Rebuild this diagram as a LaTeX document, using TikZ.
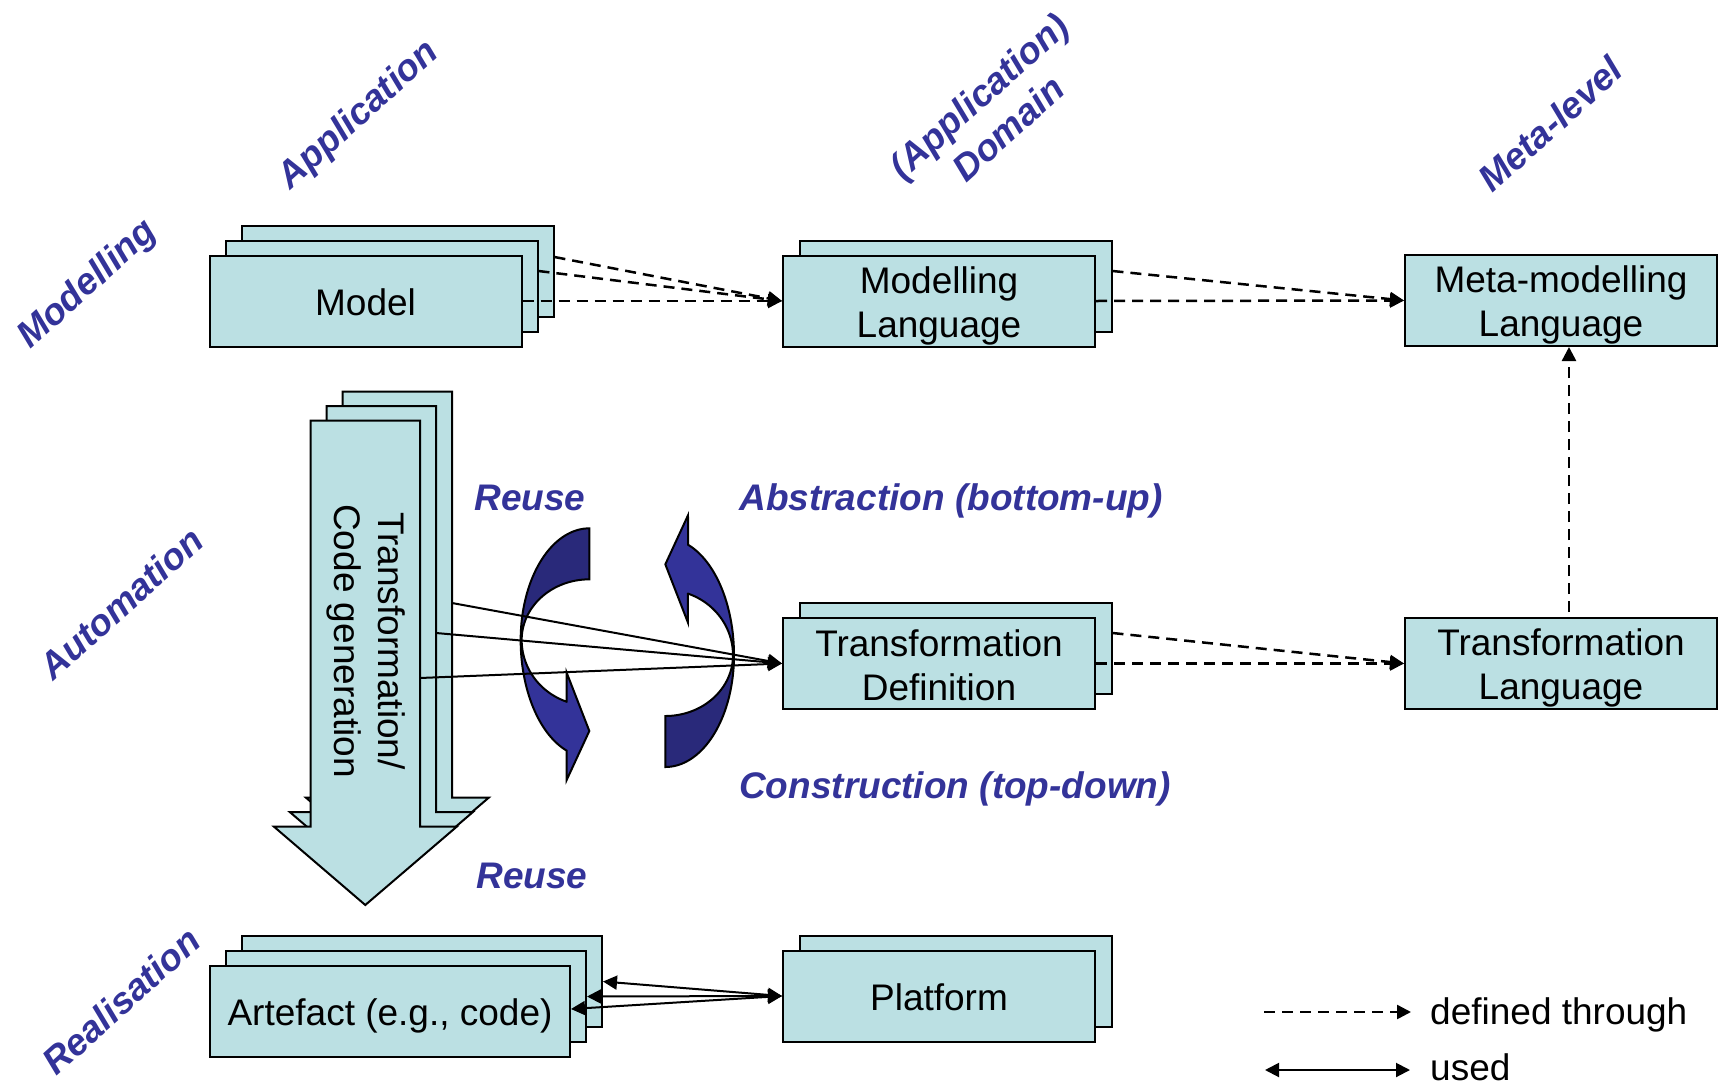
\documentclass[tikz,border=0pt]{standalone}
\usepackage{fontspec}
\setmainfont{Liberation Sans}
\usetikzlibrary{arrows.meta,calc}
\definecolor{boxfill}{HTML}{BBE0E3}
\definecolor{labelblue}{HTML}{333399}
\definecolor{shadeblue}{HTML}{29297A}
\begin{document}
\begin{tikzpicture}[x=1pt,y=-1pt,
  box/.style={draw=black, fill=boxfill, line width=2pt, inner sep=0pt,
    minimum width=312pt, minimum height=91pt},
  widebox/.style={box, minimum width=360pt},
  boxtext/.style={font=\fontsize{37}{44}\selectfont, align=center, inner sep=0pt},
  lbl/.style={text=labelblue, font=\fontsize{37}{44}\selectfont\bfseries\itshape,
    align=center, inner sep=0pt},
  plain/.style={font=\fontsize{37}{44}\selectfont, inner sep=0pt},
  defarrow/.style={line width=2.5pt, dash pattern=on 11pt off 7pt,
    -{Triangle[length=14pt,width=14pt]}},
  usearrow/.style={line width=2pt, -{Triangle[length=14pt,width=14pt]}},
  bothuse/.style={line width=2pt,
    {Triangle[length=14pt,width=14pt]}-{Triangle[length=14pt,width=14pt]}},
  bigarrow/.style={draw=black, fill=boxfill, line width=2pt, line join=miter},
  curl/.style={draw=black, line width=2pt, line join=miter}
]
\useasboundingbox (0,0) rectangle (1724,1084);

% ---------- column and row headings ----------
\node[lbl, rotate=42] (hmod)  at (88,285)    {Modelling};
\node[lbl, rotate=42] (happ)  at (359,116)   {Application};
\node[lbl, rotate=42] (hdom)  at (993,112)   {(Application)\\Domain};
\node[lbl, rotate=42] (hmeta) at (1550,124)  {Meta-level};
\node[lbl, rotate=42] (hauto) at (121,603)   {Automation};
\node[lbl, rotate=42] (hreal) at (121,1001)  {Realisation};

% ---------- model stack ----------
\node[box] (model3) at (397.5,271) {};
\node[box] (model2) at (381.5,286) {};
\node[box] (model)  at (365.5,301) {};
\node[boxtext] (modeltxt) at ($(model.center)+(0,1)$) {Model};

% ---------- modelling language ----------
\node[box] (ml2) at (955.5,286) {};
\node[box] (ml)  at (939,301) {};
\node[boxtext] (mltxt) at ($(ml.center)+(0,4.5)$) {Modelling\\Language};

\node[box] (mml) at (1561,300.5) {};
\node[boxtext] (mmltxt) at ($(mml.center)+(0,4.5)$) {Meta-modelling\\Language};

% ---------- transformation definition / language ----------
\node[box] (td2) at (955.5,648.5) {};
\node[box] (td)  at (939,663.5) {};
\node[boxtext] (tdtxt) at ($(td.center)+(0,2)$) {Transformation\\Definition};

\node[box] (tl) at (1561,663.5) {};
\node[boxtext] (tltxt) at ($(tl.center)+(0,4.5)$) {Transformation\\Language};

% ---------- platform and artefacts ----------
\node[box] (plat2) at (955.5,981) {};
\node[box] (plat)  at (939,996) {};
\node[boxtext] (plattxt) at ($(plat.center)+(0,1)$) {Platform};

\node[widebox] (art3) at (422,981.5) {};
\node[widebox] (art2) at (406,996.5) {};
\node[widebox] (art)  at (390,1011.5) {};
\node[boxtext] (arttxt) at ($(art.center)+(0,4.5)$) {Artefact (e.g., code)};

% ---------- stacked block arrows: transformation / code generation ----------
\foreach \s in {2,1,0} {
  \begin{scope}[shift={(16*\s,-14.5*\s)}]
    \filldraw[bigarrow] (310.7,420.7) -- (420,420.7) -- (420,826.7)
      -- (456.7,826.7) -- (365.3,905) -- (274,826.7) -- (310.7,826.7) -- cycle;
  \end{scope}
}
\node[boxtext, rotate=-90] (cgtext) at (366,641)
  {Transformation/\\Code generation};

% ---------- curved arrows (reuse cycle) ----------
\foreach \ang in {0,180} {
  \begin{scope}[rotate around={\ang:(627.33,647.67)}]
    % shaded back half
    \fill[shadeblue]
      plot[domain=270:180, samples=40, variable=\t]
        ({589.33+68.67*cos(\t)},{640+111.67*sin(\t)})
      -- plot[domain=180:270, samples=40, variable=\t]
        ({589.33+67.67*cos(\t)},{640+60.67*sin(\t)})
      -- cycle;
    % front half with arrow head
    \fill[labelblue]
      plot[domain=180:109.3, samples=40, variable=\t]
        ({589.33+68.67*cos(\t)},{640+117.2*sin(\t)})
      -- (566.67,780) -- (589.33,731) -- (566.67,672.67) -- (566.67,701.67)
      -- plot[domain=109.6:180, samples=40, variable=\t]
        ({589.33+67.67*cos(\t)},{640+65.5*sin(\t)})
      -- cycle;
    % outline
    \draw[curl]
      plot[domain=270:180, samples=40, variable=\t]
        ({589.33+68.67*cos(\t)},{640+111.67*sin(\t)})
      -- plot[domain=180:109.3, samples=40, variable=\t]
        ({589.33+68.67*cos(\t)},{640+117.2*sin(\t)})
      -- (566.67,780) -- (589.33,731) -- (566.67,672.67) -- (566.67,701.67)
      -- plot[domain=109.6:180, samples=40, variable=\t]
        ({589.33+67.67*cos(\t)},{640+65.5*sin(\t)})
      -- plot[domain=180:270, samples=40, variable=\t]
        ({589.33+67.67*cos(\t)},{640+60.67*sin(\t)})
      -- cycle;
  \end{scope}
}

\node[lbl, anchor=base] (reuse1) at (530,510) {Reuse};
\node[lbl, anchor=base] (reuse2) at (532,888) {Reuse};
\node[lbl, anchor=base] (abst)   at (951,510) {Abstraction (bottom-up)};
\node[lbl, anchor=base] (constr) at (955,798) {Construction (top-down)};

% ---------- "defined through" connectors ----------
\draw[defarrow] ($(model3.east)+(0,-14)$) -- (ml.west);
\draw[defarrow] ($(model2.east)+(0,-15)$) -- (ml.west);
\draw[defarrow] (model.east) -- (ml.west);

\draw[defarrow] ($(ml2.east)+(0,-15)$) -- (mml.west);
\draw[defarrow] (ml.east) -- (mml.west);

\draw[defarrow] ($(td2.east)+(0,-15.5)$) -- (tl.west);
\draw[defarrow] (td.east) -- (tl.west);

\draw[defarrow] ($(tl.north)+(8,-5)$) -- ($(mml.south)+(8,0)$);

% ---------- "used" connectors ----------
\coordinate (cg3) at (452,603);
\coordinate (cg2) at (436,633);
\coordinate (cg1) at (420,678);
\draw[usearrow] (cg3) -- (td.west);
\draw[usearrow] (cg2) -- (td.west);
\draw[usearrow] (cg1) -- (td.west);

\draw[bothuse] (art3.east) -- (plat.west);
\draw[bothuse] (art2.east) -- (plat.west);
\draw[bothuse] ($(art.east)+(0,-2.5)$) -- (plat.west);

% ---------- legend ----------
\coordinate (ld1) at (1264,1012);
\coordinate (ld2) at (1411,1012);
\draw[defarrow] (ld1) -- (ld2);
\node[plain, anchor=base west] (ldef) at (1430,1024.5) {defined through};

\coordinate (lu1) at (1265,1070);
\coordinate (lu2) at (1410,1070);
\draw[bothuse] (lu1) -- (lu2);
\node[plain, anchor=base west] (lused) at (1430,1080) {used};
\end{tikzpicture}
\end{document}
